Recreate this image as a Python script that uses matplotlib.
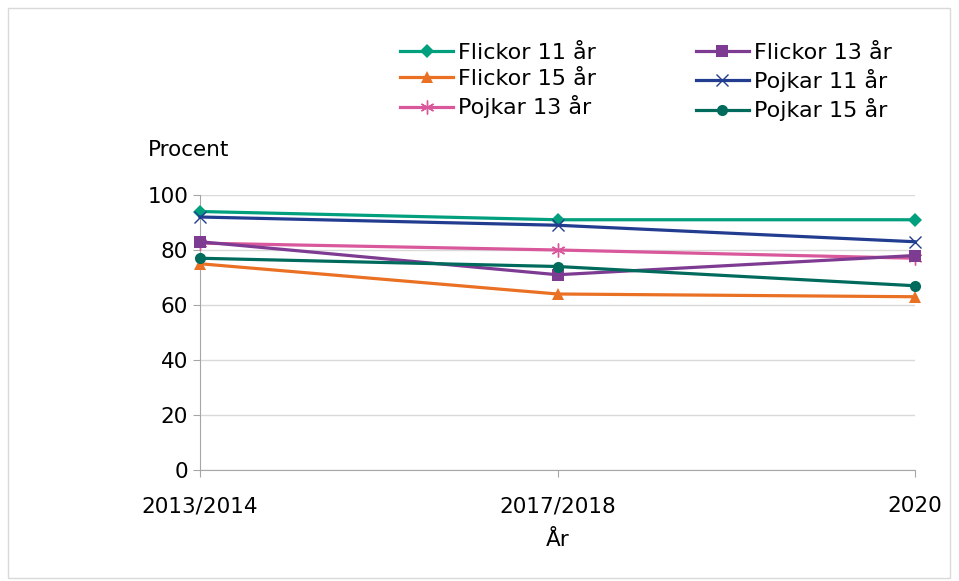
import matplotlib
matplotlib.use('Agg')
import matplotlib.pyplot as plt
from matplotlib.patches import Rectangle

ar = ["2013/2014", "2017/2018", "2020"]
flickor_11 = [94, 91, 91]
flickor_13 = [83, 71, 78]
flickor_15 = [75, 64, 63]
pojkar_11 = [92, 89, 83]
pojkar_13 = [82.5, 80, 77]
pojkar_15 = [77, 74, 67]

plt.rcParams['font.family'] = ['DejaVu Sans']

fig = plt.figure(figsize=(9.59, 5.81), dpi=100)
ax = fig.add_axes([200/959, 1 - 470/581, 715/959, 275/581])

x = range(len(ar))
# ordning för legenden (två kolumner, fylls kolumnvis)
serier = [
    ("Flickor 11 år", flickor_11, "#00A07E", "D", 7),
    ("Flickor 15 år", flickor_15, "#EA7024", "^", 8),
    ("Pojkar 13 år", pojkar_13, "#D9589B", (6, 2, 0), 10),
    ("Flickor 13 år", flickor_13, "#7D3B92", "s", 8),
    ("Pojkar 11 år", pojkar_11, "#223C8F", "x", 9),
    ("Pojkar 15 år", pojkar_15, "#006B5C", "o", 8),
]
for namn, v, farg, mk, ms in serier:
    tunn = mk == "x" or isinstance(mk, tuple)
    ax.plot(x, v, color=farg, linewidth=2.3, marker=mk, markersize=ms,
            markeredgewidth=1 if tunn else 0, label=namn, clip_on=False,
            zorder=3)

ax.set_xlim(0, 2)
ax.set_ylim(0, 100)
ax.set_yticks(range(0, 101, 20))
ax.set_xticks(list(x))
ax.set_xticklabels(ar)
ax.grid(axis='y', color='#D9D9D9', linewidth=1)
ax.set_axisbelow(True)
for s in ['top', 'right']:
    ax.spines[s].set_visible(False)
ax.spines['left'].set_color('#A6A6A6')
ax.spines['bottom'].set_color('#A6A6A6')
ax.tick_params(axis='both', colors='#A6A6A6', labelcolor='black', labelsize=15.5, length=5)
ax.tick_params(axis='x', pad=14)
ax.set_xlabel("År", fontsize=15.5, labelpad=10)
fig.text(148/959, 1 - 150/581, "Procent", fontsize=15.5, va='center', ha='left')

ax.legend(ncol=2, loc='upper left', bbox_to_anchor=(400/959, 1 - 43/581),
          bbox_transform=fig.transFigure, frameon=False, fontsize=16,
          handlelength=2.4, columnspacing=4.5, labelspacing=0.28, handletextpad=0.2,
          borderaxespad=0, borderpad=0)

fig.patches.append(Rectangle((8/959, 3/581), 942/959, 570/581, transform=fig.transFigure,
                             fill=False, edgecolor='#D9D9D9', linewidth=1))

fig.savefig("out.png", dpi=100)
